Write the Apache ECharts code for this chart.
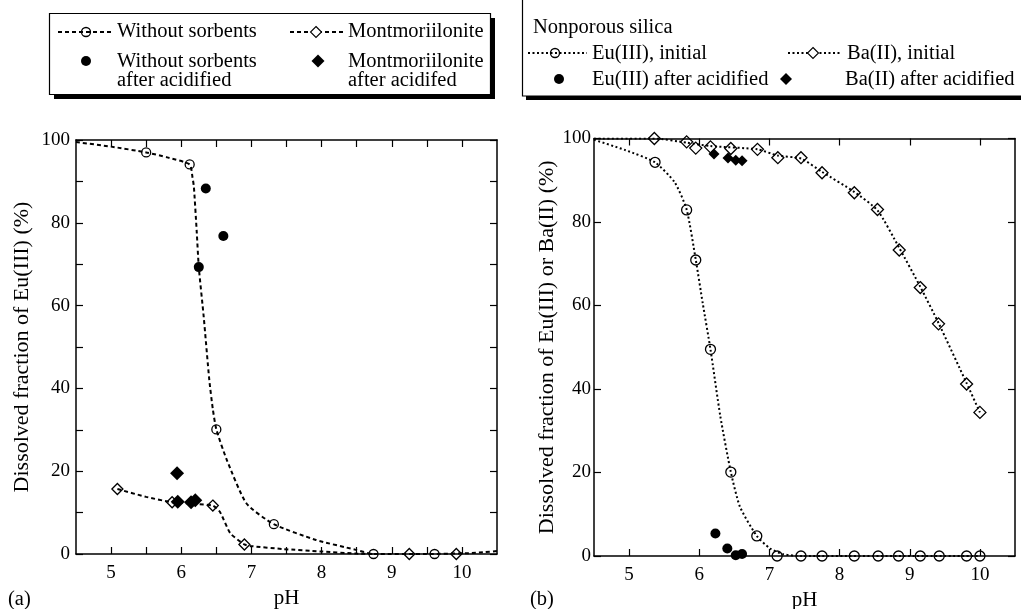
<!DOCTYPE html>
<html>
<head>
<meta charset="utf-8">
<script src="https://cdn.jsdelivr.net/npm/echarts@6/dist/echarts.min.js"></script>
<style>html,body{margin:0;padding:0;background:#fff}#main{width:1021px;height:609px}</style>
</head>
<body>
<div id="main"></div>
<script>
// ---- panel (a): Eu(III), without sorbents / montmorillonite
const woPH = [5.5, 6.12, 6.5, 7.32, 8.74, 9.61];
const woVal = [97.0, 94.1, 30.1, 7.2, 0, 0];
const woCurvePH = [4.5, 5.0, 5.5, 5.8, 6.12, 6.16, 6.18, 6.22, 6.25, 6.32, 6.40, 6.45, 6.5, 6.65, 6.93, 7.32, 7.92, 8.49, 8.74, 9.5, 10.1, 10.3, 10.5];
const woCurveVal = [99.5, 98.4, 97.0, 95.8, 94.1, 91, 88.7, 78, 69.3, 57.3, 42, 35, 30.1, 22.7, 12.2, 7.2, 3.4, 1.0, 0, 0, 0.2, 0.4, 0.7];
const woAcidPH = [6.25, 6.35, 6.60];
const woAcidVal = [69.3, 88.3, 76.8];

const mtPH = [5.09, 5.87, 6.45, 6.90, 9.25, 9.92];
const mtVal = [15.7, 12.5, 11.7, 2.3, 0, 0];
const mtCurvePH = [5.09, 5.5, 5.87, 6.2, 6.45, 6.55, 6.7, 6.9, 7.0, 7.45, 8.0, 8.5, 8.74];
const mtCurveVal = [15.7, 13.8, 12.5, 12.1, 11.7, 10.2, 5, 2.3, 1.9, 1.2, 0.6, 0.1, 0];
const mtAcidPH = [5.94, 5.95, 6.14, 6.20];
const mtAcidVal = [19.5, 12.6, 12.5, 13.0];

// ---- panel (b): nonporous silica
const euPH = [5.37, 5.82, 5.95, 6.16, 6.45, 6.82, 7.11, 7.45, 7.75, 8.21, 8.55, 8.84, 9.15, 9.42, 9.81, 10.0];
const euVal = [94.3, 82.9, 70.9, 49.5, 20.1, 4.8, 0, 0, 0, 0, 0, 0, 0, 0, 0, 0];
const euCurvePH = [4.5, 4.95, 5.37, 5.65, 5.82, 5.95, 6.05, 6.16, 6.3, 6.45, 6.58, 6.82, 7.01, 7.2, 7.45, 10.0];
const euCurveVal = [99.7, 97.2, 94.3, 89.5, 83, 71, 60.5, 49.5, 33.5, 20.1, 11.8, 4.8, 1.8, 0.4, 0, 0];
const euAcidPH = [6.23, 6.40, 6.52, 6.61];
const euAcidVal = [5.4, 1.8, 0.2, 0.5];

const baPH = [5.36, 5.82, 5.95, 6.16, 6.45, 6.83, 7.12, 7.45, 7.75, 8.21, 8.54, 8.85, 9.15, 9.41, 9.81, 10.0];
const baVal = [100, 99.2, 97.7, 98, 97.6, 97.4, 95.4, 95.4, 91.8, 87.0, 83.0, 73.3, 64.3, 55.6, 41.2, 34.4];
const baCurvePH = [4.5, 5.36, 5.82, 6.16, 6.83, 7.12, 7.45, 7.75, 8.21, 8.54, 8.85, 9.15, 9.41, 9.81, 10.0];
const baCurveVal = [100, 100, 99.0, 98.2, 97.4, 95.9, 95.2, 92, 87.2, 82.8, 73.8, 64.5, 55.8, 41.4, 34.4];
const baAcidPH = [6.21, 6.41, 6.52, 6.61];
const baAcidVal = [96.3, 95.3, 94.8, 94.7];

// ticks
const xLabels = [5, 6, 7, 8, 9, 10];
const xTicksA = [5, 5.5, 6, 6.5, 7, 7.5, 8, 8.5, 9, 9.5, 10];
const yLabels = [0, 20, 40, 60, 80, 100];
const yTicksA = [0, 10, 20, 30, 40, 50, 60, 70, 80, 90, 100];

const FONT = "Liberation Serif";
const zip = (a, b) => a.map((v, i) => [v, b[i]]);

const chart = echarts.init(document.getElementById("main"));

function xAx(grid, top, ticks, name) {
  return {
    type: "value", gridIndex: grid, min: 4.5, max: 10.5,
    position: top ? "top" : "bottom",
    name: top ? "" : name, nameLocation: "middle", nameGap: 33,
    nameTextStyle: { fontFamily: FONT, fontSize: 21, color: "#000" },
    axisLine: { show: true, onZero: false, lineStyle: { color: "#000", width: 1.5 } },
    axisTick: { show: true, inside: true, length: 7, customValues: ticks, lineStyle: { color: "#000", width: 1.2 } },
    axisLabel: { show: !top, customValues: xLabels, margin: 10, fontFamily: FONT, fontSize: 19, color: "#000" },
    splitLine: { show: false }
  };
}
function yAx(grid, right, ticks, name, margin, gap) {
  return {
    type: "value", gridIndex: grid, min: 0, max: 100,
    position: right ? "right" : "left",
    name: right ? "" : name, nameLocation: "middle", nameGap: gap, nameRotate: 90,
    nameTextStyle: { fontFamily: FONT, fontSize: 22, color: "#000" },
    axisLine: { show: true, onZero: false, lineStyle: { color: "#000", width: 1.5 } },
    axisTick: { show: true, inside: true, length: 7, customValues: ticks, lineStyle: { color: "#000", width: 1.2 } },
    axisLabel: { show: !right, customValues: yLabels, margin: margin, fontFamily: FONT, fontSize: 19, color: "#000" },
    splitLine: { show: false }
  };
}

function curve(x, y, ph, val, dash) {
  return {
    type: "line", xAxisIndex: x, yAxisIndex: y, data: zip(ph, val),
    showSymbol: false, smooth: 0.2, silent: true, z: 1,
    lineStyle: { color: "#000", width: 2, type: dash }
  };
}
function pts(x, y, ph, val, symbol, size, filled) {
  return {
    type: "scatter", xAxisIndex: x, yAxisIndex: y, data: zip(ph, val),
    symbol: symbol, symbolSize: size, z: 3,
    itemStyle: filled ? { color: "#000", opacity: 1 } : { color: "rgba(0,0,0,0)", borderColor: "#000", borderWidth: 1.3, opacity: 1 }
  };
}

const dashA = [4, 3];
const dashB = [2, 2.5];

// legend drawing helpers
const txt = (x, y, s) => ({ type: "text", left: x, top: y, style: { text: s, fontFamily: FONT, fontSize: 20.5, fill: "#000", lineHeight: 19 } });
const dline = (x1, x2, y, dash) => ({ type: "line", shape: { x1: x1, y1: y, x2: x2, y2: y }, style: { stroke: "#000", lineWidth: 1.8, lineDash: dash } });
const circ = (cx, cy, r, filled) => ({ type: "circle", shape: { cx: cx, cy: cy, r: r }, style: filled ? { fill: "#000" } : { fill: "none", stroke: "#000", lineWidth: 1.3 } });
const diam = (cx, cy, h, filled) => ({ type: "polygon", shape: { points: [[cx, cy - h], [cx + h, cy], [cx, cy + h], [cx - h, cy]] }, style: filled ? { fill: "#000" } : { fill: "#fff", stroke: "#000", lineWidth: 1.1 } });

const graphic = [
  { type: "rect", shape: { x: 54, y: 18, width: 441, height: 81 }, style: { fill: "#000" } },
  { type: "rect", shape: { x: 49.5, y: 13.5, width: 441, height: 81 }, style: { fill: "#fff", stroke: "#000", lineWidth: 1.2 } },
  dline(58, 112, 32, dashA), circ(86, 32, 4.5, false), txt(117, 21, "Without sorbents"),
  dline(290, 343, 32, dashA), diam(316, 32, 5.5, false), txt(348, 21, "Montmoriilonite"),
  circ(86, 61, 5, true), txt(117, 51, "Without sorbents\nafter acidified"),
  diam(318, 61, 6.5, true), txt(348, 51, "Montmoriilonite\nafter acidifed"),

  { type: "rect", shape: { x: 526, y: -10, width: 520, height: 110 }, style: { fill: "#000" } },
  { type: "rect", shape: { x: 522.5, y: -14, width: 520, height: 110 }, style: { fill: "#fff", stroke: "#000", lineWidth: 1.2 } },
  txt(533, 17, "Nonporous silica"),
  dline(528, 587, 53, dashB), circ(555, 53, 4.5, false), txt(592, 43, "Eu(III), initial"),
  dline(788, 842, 53, dashB), diam(813, 53, 5.5, false), txt(847, 43, "Ba(II), initial"),
  circ(559, 79, 5, true), txt(592, 69, "Eu(III) after acidified"),
  diam(786, 79, 6, true), txt(845, 69, "Ba(II) after acidified"),

  txt(8, 589, "(a)"),
  txt(530, 589, "(b)")
];

const option = {
  animation: false,
  backgroundColor: "#fff",
  grid: [
    { left: 76, right: 524, top: 140, bottom: 55, outerBoundsMode: "none" },
    { left: 594, right: 6, top: 138.5, bottom: 53, outerBoundsMode: "none" }
  ],
  xAxis: [
    xAx(0, false, xTicksA, "pH"), xAx(0, true, xTicksA, ""),
    xAx(1, false, xLabels, "pH"), xAx(1, true, xLabels, "")
  ],
  yAxis: [
    yAx(0, false, yTicksA, "Dissolved fraction of Eu(III) (%)", 6, 43), yAx(0, true, yTicksA, "", 6, 0),
    yAx(1, false, yLabels, "Dissolved fraction of Eu(III) or Ba(II) (%)", 3, 16), yAx(1, true, yLabels, "", 3, 0)
  ],
  series: [
    curve(0, 0, woCurvePH, woCurveVal, dashA),
    curve(0, 0, mtCurvePH, mtCurveVal, dashA),
    pts(0, 0, woPH, woVal, "circle", 9, false),
    pts(0, 0, mtPH, mtVal, "diamond", [11, 11], false),
    pts(0, 0, woAcidPH, woAcidVal, "circle", 10, true),
    pts(0, 0, mtAcidPH, mtAcidVal, "diamond", [14, 14], true),

    curve(2, 2, euCurvePH, euCurveVal, dashB),
    curve(2, 2, baCurvePH, baCurveVal, dashB),
    pts(2, 2, euPH, euVal, "circle", 10, false),
    pts(2, 2, baPH, baVal, "diamond", [12, 12], false),
    pts(2, 2, euAcidPH, euAcidVal, "circle", 10, true),
    pts(2, 2, baAcidPH, baAcidVal, "diamond", [11, 11], true)
  ],
  graphic: graphic
};
chart.setOption(option);
</script>
</body>
</html>
